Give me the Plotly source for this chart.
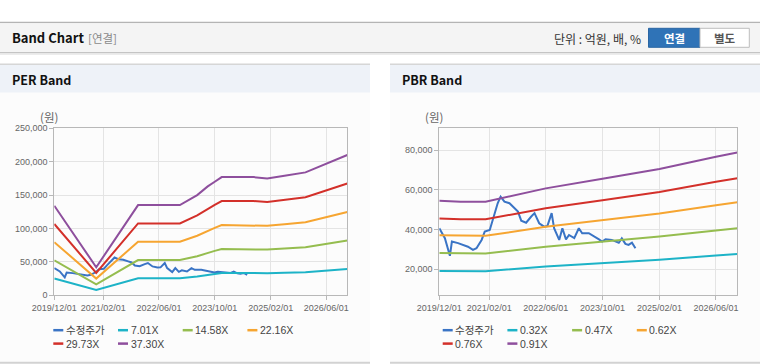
import plotly.graph_objects as go

# ---------------- data ----------------
price_dates = ["2019-12-01", "2020-01-18", "2020-03-01", "2020-03-18", "2020-05-10", "2020-06-20",
               "2020-08-03", "2020-09-15", "2020-10-15", "2020-11-28", "2020-12-25", "2021-02-06",
               "2021-03-04", "2021-04-15", "2021-05-10", "2021-06-12", "2021-07-25", "2021-09-06",
               "2021-10-06", "2021-11-03", "2021-12-15", "2022-01-28", "2022-02-25", "2022-04-06",
               "2022-05-18", "2022-06-15", "2022-07-22", "2022-08-12", "2022-09-25", "2022-10-22",
               "2022-11-22", "2022-12-18", "2023-02-01", "2023-03-12", "2023-04-10", "2023-06-06",
               "2023-07-18", "2023-09-01", "2023-09-28", "2023-10-28", "2023-12-20", "2024-02-18",
               "2024-03-15", "2024-04-15", "2024-05-12", "2024-06-10", "2024-07-10"]
price_values = [40700, 35700, 26800, 34000, 33200, 32300,
                31400, 29800, 30600, 34800, 39000, 39800,
                44900, 53300, 56600, 54100, 53300, 50800,
                49100, 44500, 43500, 46600, 48300, 43200,
                41500, 41800, 48300, 40700, 34800, 40700,
                35100, 37300, 35700, 40700, 38200, 38200,
                36900, 35100, 34000, 35100, 34800, 33400,
                35600, 32800, 32300, 33400, 30600]

per_band_dates = ["2019-12-01", "2020-12-01", "2021-12-01", "2022-12-01", "2023-05-01", "2023-08-01",
                  "2023-10-01", "2023-12-01", "2024-09-01", "2025-01-01", "2025-06-01", "2025-12-01",
                  "2026-12-01"]
per_701 = [25200, 7900, 25400, 25400, 28200, 30600, 32000, 33300, 33300, 32900, 33600, 34600, 39500]
per_1458 = [52400, 16400, 52800, 52800, 58600, 63700, 66500, 69200, 69200, 68400, 70000, 71900, 82100]
per_2216 = [79600, 25000, 80200, 80200, 89100, 96800, 101000, 105100, 105100, 104000, 106300, 109300, 124800]
per_2973 = [106800, 33500, 107600, 107600, 119500, 129900, 135500, 141100, 141100, 139500, 142700, 146700, 167400]
per_3730 = [134000, 42000, 135000, 135000, 150000, 163000, 170000, 177000, 177000, 175000, 179000, 184000, 210000]

pbr_band_dates = ["2019-12-01", "2020-06-01", "2021-01-01", "2022-06-01", "2023-10-01", "2025-02-01",
                  "2026-06-01", "2026-12-01"]
pbr_032 = [19200, 19000, 19000, 21400, 23100, 24800, 27000, 27700]
pbr_047 = [28200, 28000, 28000, 31400, 33900, 36500, 39600, 40700]
pbr_062 = [37200, 36900, 36900, 41400, 44700, 48100, 52300, 53800]
pbr_076 = [45600, 45200, 45200, 50800, 54800, 59000, 64100, 65900]
pbr_091 = [54600, 54100, 54100, 60800, 65600, 70600, 76700, 78900]

per_names = ["수정주가", "7.01X", "14.58X", "22.16X", "29.73X", "37.30X"]
pbr_names = ["수정주가", "0.32X", "0.47X", "0.62X", "0.76X", "0.91X"]
x_tick_vals = ["2019-12-01", "2021-02-01", "2022-06-01", "2023-10-01", "2025-02-01", "2026-06-01"]
x_tick_text = ["2019/12/01", "2021/02/01", "2022/06/01", "2023/10/01", "2025/02/01", "2026/06/01"]
x_range = ["2019-12-01", "2026-12-01"]

colors = ["#3a74c5", "#1db3c7", "#95bd4f", "#f6a531", "#d3302a", "#8e4f9d"]

# ---------------- figure ----------------
W, H = 760, 364


def X(p):
    return p / W


def Y(p):
    return 1 - p / H


fig = go.Figure()

per_series = [(price_dates, price_values), (per_band_dates, per_701), (per_band_dates, per_1458),
              (per_band_dates, per_2216), (per_band_dates, per_2973), (per_band_dates, per_3730)]
pbr_series = [(price_dates, price_values), (pbr_band_dates, pbr_032), (pbr_band_dates, pbr_047),
              (pbr_band_dates, pbr_062), (pbr_band_dates, pbr_076), (pbr_band_dates, pbr_091)]

for i, (xs, ys) in enumerate(per_series):
    fig.add_trace(go.Scatter(x=xs, y=ys, mode="lines", name=per_names[i],
                             line=dict(color=colors[i], width=2), xaxis="x", yaxis="y",
                             showlegend=False))
for i, (xs, ys) in enumerate(pbr_series):
    fig.add_trace(go.Scatter(x=xs, y=ys, mode="lines", name=pbr_names[i],
                             line=dict(color=colors[i], width=2), xaxis="x2", yaxis="y2",
                             showlegend=False))

tickfont = dict(family="Liberation Sans, Arial, sans-serif", size=9, color="#666666")
xcommon = dict(type="date", range=x_range, tickvals=x_tick_vals, ticktext=x_tick_text, tickangle=0,
               showgrid=True, gridcolor="#e4e4e4", gridwidth=1, showline=True, linecolor="#b8b8b8",
               linewidth=1, mirror=True, ticks="outside", ticklen=4, tickcolor="#b8b8b8",
               tickfont=tickfont, zeroline=False, fixedrange=True, automargin=False)
ycommon = dict(showgrid=True, gridcolor="#e4e4e4", gridwidth=1, showline=True, linecolor="#b8b8b8",
               linewidth=1, mirror=True, ticks="outside", ticklen=4, tickcolor="#b8b8b8",
               tickfont=tickfont, zeroline=False, tickformat=",d", fixedrange=True, automargin=False)

fig.update_layout(
    width=W, height=H, margin=dict(l=0, r=0, t=0, b=0, pad=0), autosize=False,
    paper_bgcolor="#ffffff", plot_bgcolor="rgba(0,0,0,0)",
    xaxis=dict(domain=[X(54.3), X(347.3)], anchor="y", **xcommon),
    yaxis=dict(domain=[Y(295.3), Y(128.3)], anchor="x", range=[0, 250000], dtick=50000, tick0=0,
               **ycommon),
    xaxis2=dict(domain=[X(439.3), X(737.3)], anchor="y2", **xcommon),
    yaxis2=dict(domain=[Y(295.3), Y(128.3)], anchor="x2", range=[6890, 91090], dtick=20000, tick0=0,
                **ycommon),
    showlegend=False,
)

shapes = []


def rect(x0, y0, x1, y1, fill, line_color=None, lw=0):
    shapes.append(dict(type="rect", xref="paper", yref="paper", x0=X(x0), x1=X(x1), y0=Y(y1), y1=Y(y0),
                       fillcolor=fill, line=dict(color=line_color or fill, width=lw), layer="below"))


def hline(x0, x1, y, color, w=1, layer="below"):
    shapes.append(dict(type="line", xref="paper", yref="paper", x0=X(x0), x1=X(x1), y0=Y(y), y1=Y(y),
                       line=dict(color=color, width=w), layer=layer))


# header bar
hline(0, 760, 22.5, "#b4b4b4", 1.5)
rect(0, 23.3, 760, 52, "#f4f4f4")
hline(0, 760, 52.6, "#c4c4c4", 1.2)
hline(0, 760, 54, "#e6e6e6", 1.5)

# panels
for px0, px1 in [(0, 370), (390, 760)]:
    rect(px0, 64, px1, 362, "#fcfcfc")
    rect(px0, 64.5, px1, 92.5, "#eef2f8")
    hline(px0, px1, 64.2, "#d6d6d6", 1.5)
    hline(px0, px1, 362.8, "#d2d2d2", 2)

# buttons
shapes.append(dict(type="rect", xref="paper", yref="paper", x0=X(648.5), x1=X(700), y0=Y(47.3), y1=Y(28.3),
                   fillcolor="#2f73b7", line=dict(color="#2a66a3", width=1), layer="below"))
shapes.append(dict(type="rect", xref="paper", yref="paper", x0=X(700), x1=X(749.3), y0=Y(47.3), y1=Y(28.3),
                   fillcolor="#ffffff", line=dict(color="#bdbdbd", width=1), layer="below"))

annotations = []


def text(x, y, s, size, color, bold=False, anchor="left", family="Noto Sans CJK KR, Noto Sans, sans-serif"):
    annotations.append(dict(xref="paper", yref="paper", x=X(x), y=Y(y), text=("<b>%s</b>" % s) if bold else s,
                            showarrow=False, xanchor=anchor, yanchor="middle", borderpad=0,
                            font=dict(family=family, size=size, color=color)))


text(11, 38, "Band Chart", 13, "#111111", bold=True)
text(87, 38.5, "[연결]", 11.5, "#8a8a8a")
text(642, 38.5, "단위 : 억원, 배, %", 12, "#333333", anchor="right")
text(674, 38, "연결", 11.5, "#ffffff", bold=True, anchor="center")
text(724.5, 38, "별도", 11.5, "#555555", bold=True, anchor="center")
text(11, 79.5, "PER Band", 12.5, "#111111", bold=True)
text(401, 79.5, "PBR Band", 12.5, "#111111", bold=True)
text(48.5, 117, "(원)", 11.5, "#666666", anchor="center")
text(434, 117, "(원)", 11.5, "#666666", anchor="center")

# manual legends
for base, names in [(53.3, per_names), (442.7, pbr_names)]:
    for i, nm in enumerate(names):
        col, row = i % 4, i // 4
        x0 = base + col * 64.7
        yy = 330.2 + row * 13.4
        hline(x0, x0 + 10, yy, colors[i], 2.5, layer="above")
        text(x0 + 11.5, yy, nm, 10.5, "#444444", family="Liberation Sans, Noto Sans CJK KR, sans-serif")

fig.update_layout(shapes=shapes, annotations=annotations)

fig.write_html("out.html", config={"displayModeBar": False},
               post_script="document.body.style.margin='0';document.body.style.padding='0';"
                           "document.body.style.overflow='hidden';")
